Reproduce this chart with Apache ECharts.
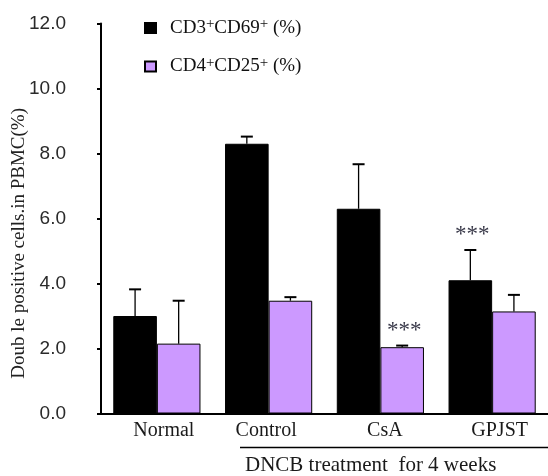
<!DOCTYPE html>
<html>
<head>
<meta charset="utf-8">
<script src="https://cdn.jsdelivr.net/npm/echarts@6/dist/echarts.min.js"></script>
<style>html,body{margin:0;padding:0;background:#fff}#c{width:548px;height:476px}</style>
</head>
<body>
<div id="c"></div>
<script>
const categories = ['Normal', 'Control', 'CsA', 'GPJST'];
const cd3cd69 = [3.0, 8.3, 6.3, 4.1];
const cd3cd69Err = [0.82, 0.22, 1.37, 0.93];
const cd4cd25 = [2.15, 3.47, 2.04, 3.14];
const cd4cd25Err = [1.32, 0.11, 0.05, 0.51];
const cd3Sig = ['', '', '', '***'];
const cd4Sig = ['', '', '***', ''];
const yTicks = [0, 2, 4, 6, 8, 10, 12];

const serif = '"Liberation Serif", "Times New Roman", serif';
const chart = echarts.init(document.getElementById('c'));

function errData(vals, errs, sigs, side) {
  return vals.map((v, i) => [i, v, v + errs[i], side, sigs[i]]);
}
function renderErr(params, api) {
  const cat = api.value(0), v = api.value(1), top = api.value(2), side = api.value(3);
  const sig = api.value(4);
  const band = api.size([1, 0])[0];
  const p1 = api.coord([cat, v]);
  const p2 = api.coord([cat, top]);
  const x = p1[0] + side * band * 0.195;
  const children = [
    { type: 'line', shape: { x1: x, y1: p1[1], x2: x, y2: p2[1] }, style: { stroke: '#000', lineWidth: 1.3 } },
    { type: 'line', shape: { x1: x - 6, y1: p2[1], x2: x + 6, y2: p2[1] }, style: { stroke: '#000', lineWidth: 2 } }
  ];
  if (sig && sig !== '-') {
    children.push({ type: 'text', style: { text: sig, x: x + 2, y: p2[1] - 15, align: 'center', verticalAlign: 'middle',
      font: '23px ' + serif, fill: '#3a3a4a' } });
  }
  return { type: 'group', children };
}

chart.setOption({
  animation: false,
  grid: { left: 101, right: -5, top: 23.5, bottom: 62.5 },
  legend: {
    orient: 'vertical', left: 139, top: 12, itemWidth: 11, itemHeight: 10, itemGap: 18,
    icon: 'rect',
    data: ['cd3', 'cd4'],
    formatter: function (name) {
      return name === 'cd3'
        ? '{g|}{b|CD3}{s|+}{b|CD69}{s|+}{b| (%)}'
        : '{g|}{b|CD4}{s|+}{b|CD25}{s|+}{b| (%)}';
    },
    textStyle: {
      rich: {
        g: { width: 9 },
        b: { fontFamily: serif, fontSize: 19, color: '#111', lineHeight: 22 },
        s: { fontFamily: serif, fontSize: 15, color: '#111', lineHeight: 10, verticalAlign: 'top' }
      }
    }
  },
  xAxis: {
    type: 'category', data: categories,
    axisLine: { lineStyle: { color: '#000', width: 2 } },
    axisTick: { inside: true, length: 3, lineStyle: { color: '#000', width: 2 } },
    axisLabel: { interval: 0, hideOverlap: false, fontFamily: serif, fontSize: 20, color: '#1a1a1a', margin: 7,
      formatter: function (v, i) { return '{c' + i + '|' + v + '}'; },
      rich: {
        c0: { fontFamily: serif, fontSize: 20, color: '#1a1a1a', padding: [0, 0, 0, 14] },
        c1: { fontFamily: serif, fontSize: 20, color: '#1a1a1a', padding: [0, 5, 0, 0] },
        c2: { fontFamily: serif, fontSize: 20, color: '#1a1a1a', padding: [0, 0, 0, 9] },
        c3: { fontFamily: serif, fontSize: 20, color: '#1a1a1a', padding: [0, 0, 0, 15] }
      }
    }
  },
  yAxis: {
    type: 'value', min: 0, max: 12, interval: 2,
    splitLine: { show: false },
    axisLine: { show: true, lineStyle: { color: '#000', width: 2 } },
    axisTick: { show: true, length: 4, lineStyle: { color: '#000', width: 2 } },
    axisLabel: { fontFamily: '"Liberation Sans", Arial, sans-serif', fontSize: 19, color: '#2a2a2a', margin: 35,
      formatter: v => yTicks.includes(v) ? v.toFixed(1) : '' }
  },
  series: [
    { name: 'cd3', type: 'bar', data: cd3cd69, barWidth: '39%', barGap: '0%',
      itemStyle: { color: '#000', borderColor: '#000', borderWidth: 1 } },
    { name: 'cd4', type: 'bar', data: cd4cd25, barWidth: '39%', barGap: '0%',
      itemStyle: { color: '#CC99FF', borderColor: '#000', borderWidth: 1 } },
    { type: 'custom', renderItem: renderErr, data: errData(cd3cd69, cd3cd69Err, cd3Sig, -1), z: 5,
      encode: { x: 0, y: [1, 2] } },
    { type: 'custom', renderItem: renderErr, data: errData(cd4cd25, cd4cd25Err, cd4Sig, 1), z: 5,
      encode: { x: 0, y: [1, 2] } }
  ],
  graphic: [
    { type: 'text', left: 10, top: 108, rotation: Math.PI / 2,
      style: { text: 'Doub le positive cells.in PBMC(%)', font: '19px ' + serif, fill: '#222' } },
    { type: 'line', shape: { x1: 240, y1: 447.5, x2: 548, y2: 447.5 }, style: { stroke: '#000', lineWidth: 1.5 } },
    { type: 'text', left: 245, top: 455,
      style: { text: 'DNCB treatment  for 4 weeks', font: '21px ' + serif, fill: '#1a1a1a' } }
  ]
});
</script>
</body>
</html>
